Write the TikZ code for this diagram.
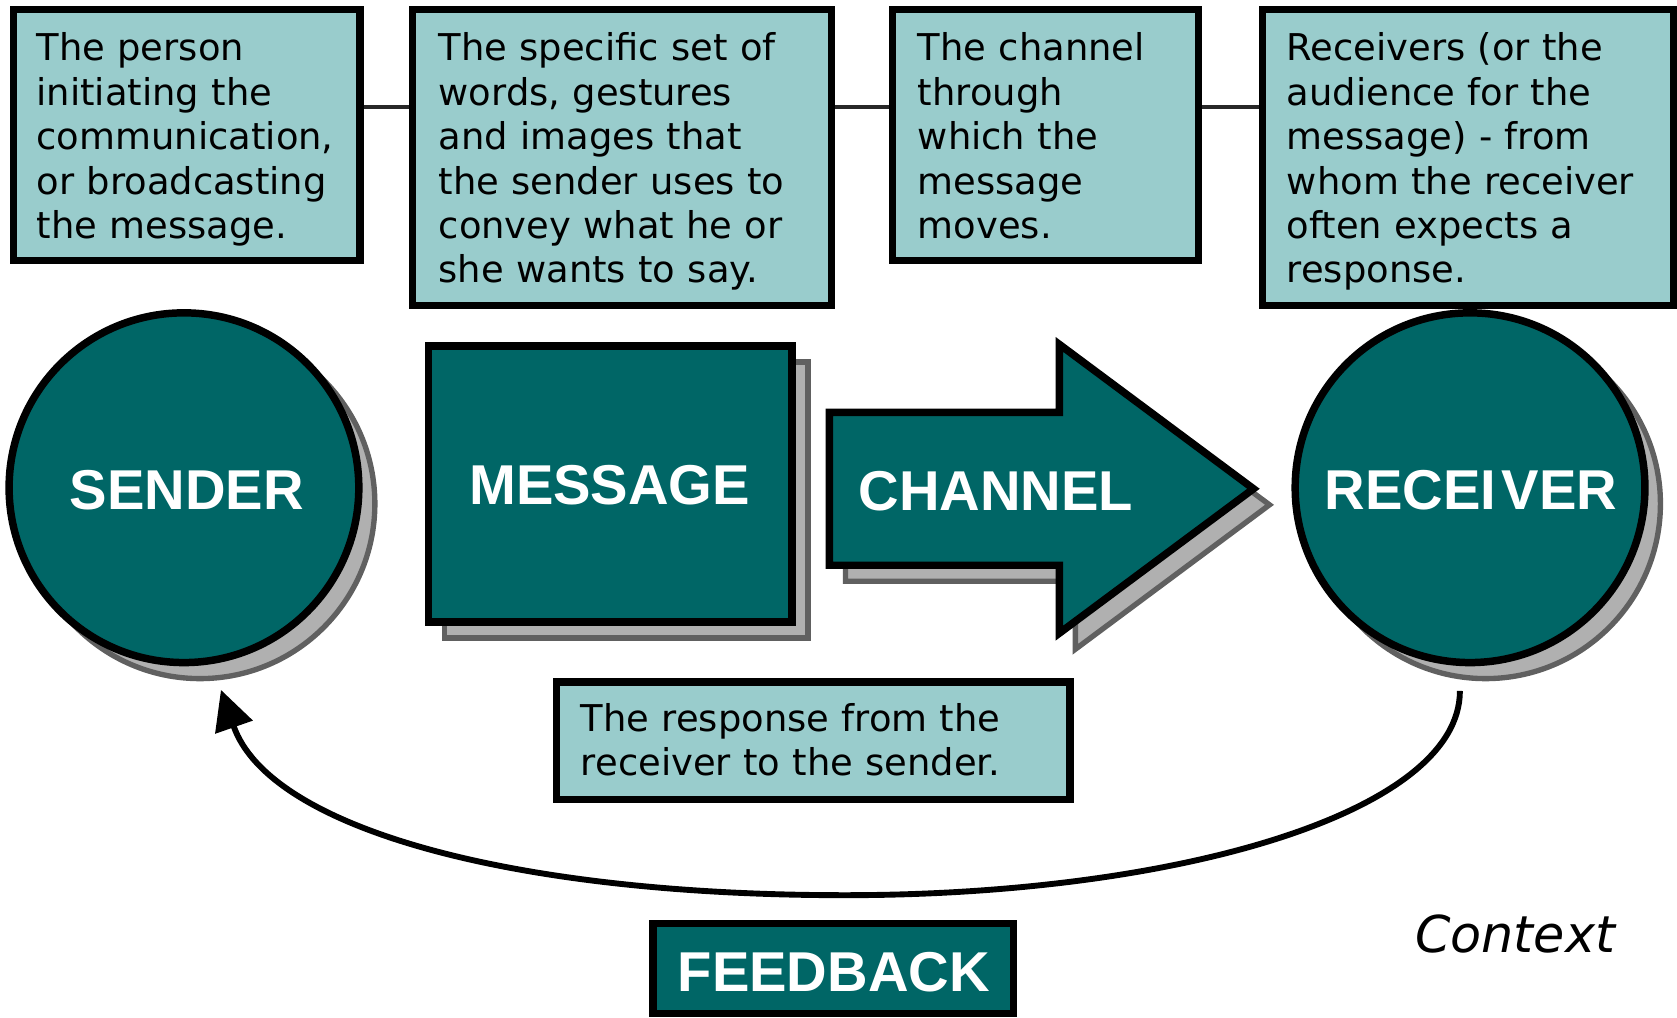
\documentclass[tikz,border=0pt]{standalone}
\usepackage{fontspec}
\setmainfont{DejaVu Sans}
\newfontfamily\labelfont{Liberation Sans}
\usetikzlibrary{arrows.meta,calc}
\definecolor{darkteal}{RGB}{0,102,102}
\definecolor{lightteal}{RGB}{153,204,204}
\definecolor{shadowfill}{RGB}{176,176,176}
\definecolor{shadowline}{RGB}{96,96,96}
\definecolor{linkgray}{RGB}{40,40,40}
\begin{document}
\begin{tikzpicture}[x=1pt,y=-1pt,
  desc/.style={draw=black, line width=7pt, fill=lightteal, inner sep=0pt},
  desctext/.style={anchor=base west, inner sep=0pt, align=left, text width=400pt, font=\fontsize{34.5}{41.5}\selectfont},
  bigshape/.style={draw=black, line width=7pt, fill=darkteal, inner sep=0pt},
  shadowshape/.style={draw=shadowline, line width=5pt, fill=shadowfill, inner sep=0pt},
  biglabel/.style={text=white, font=\labelfont\bfseries\fontsize{52.5}{60}\selectfont, anchor=base, inner sep=0pt},
  link/.style={draw=linkgray, line width=3pt},
]
\useasboundingbox (0,0) rectangle (1568,951);
% top description boxes
\node[desc, minimum width=324pt, minimum height=234.5pt] (b1) at (174.5,126.25) {};
\node[desc, minimum width=392pt, minimum height=276.5pt] (b2) at (581.5,147.25) {};
\node[desc, minimum width=286pt, minimum height=234.5pt] (b3) at (977.5,126.25) {};
\node[desc, minimum width=384pt, minimum height=276.5pt] (b4) at (1372.5,147.25) {};
\node[desctext] (t1) at (34,57) {The person\\initiating the\\communication,\\or broadcasting\\the message.};
\node[desctext] (t2) at (410,57) {The specific set of\\words, gestures\\and images that\\the sender uses to\\convey what he or\\she wants to say.};
\node[desctext] (t3) at (858,57) {The channel\\through\\which the\\message\\moves.};
\node[desctext] (t4) at (1203,57) {Receivers (or the\\audience for the\\message) - from\\whom the receiver\\often expects a\\response.};
\coordinate (ly) at (0,100);
\draw[link] (b1.east |- ly) -- (b2.west |- ly);
\draw[link] (b2.east |- ly) -- (b3.west |- ly);
\draw[link] (b3.east |- ly) -- (b4.west |- ly);
% shadows
\node[shadowshape, circle, minimum size=327pt] (sendsh) at (187,471) {};
\node[shadowshape, circle, minimum size=327pt] (recsh) at (1389,471) {};
\node[shadowshape, rectangle, minimum width=340pt, minimum height=258pt] (msgsh) at (585.5,467.5) {};
\draw[shadowshape] (790.5,400.5) -- (1005.5,400.5) -- (1005.5,337) -- (1187,472) -- (1005.5,607) -- (1005.5,543.5) -- (790.5,543.5) -- cycle;
% main shapes
\node[bigshape, circle, minimum size=327pt] (sender) at (172,456) {};
\node[bigshape, circle, minimum size=327pt] (receiver) at (1374.5,456) {};
\node[bigshape, rectangle, minimum width=340pt, minimum height=258pt] (message) at (570.5,452.5) {};
\draw[bigshape] (775.5,385.5) -- (990.5,385.5) -- (990.5,322) -- (1172,457) -- (990.5,592) -- (990.5,528.5) -- (775.5,528.5) -- cycle;
\node[biglabel] (sendlab) at (174.5,476) {SENDER};
\node[biglabel] (msglab) at (570,472) {MESSAGE};
\node[biglabel] (chanlab) at (931,477) {CHANNEL};
\node[biglabel] (reclab) at (1375.5,476) {RECEI\kern5pt VER};
% feedback description
\node[desc, minimum width=480pt, minimum height=110pt] (fbdesc) at (760.5,692.5) {};
\node[desctext] (fbtext) at (543,684) {The response from the\\receiver to the sender.};
% feedback arc
\coordinate (fbstart) at (1365,646);
\coordinate (fbtip) at (206.6,645);
\draw[line width=5.5pt, -{Triangle[length=37pt,width=36pt]}] (fbstart) .. controls (1365,760) and (1100,837) .. (790,837) .. controls (480,837) and (252,775) .. (fbtip);
% feedback label
\node[bigshape, rectangle, minimum width=337pt, minimum height=84pt] (fbbox) at (779,905.5) {};
\node[biglabel] (fblab) at (779.5,926.6) {FEEDBACK};
\node[anchor=base west, inner sep=0pt, font=\itshape\fontsize{47.5}{55}\selectfont] (context) at (1323,891) {Context};
\end{tikzpicture}
\end{document}
